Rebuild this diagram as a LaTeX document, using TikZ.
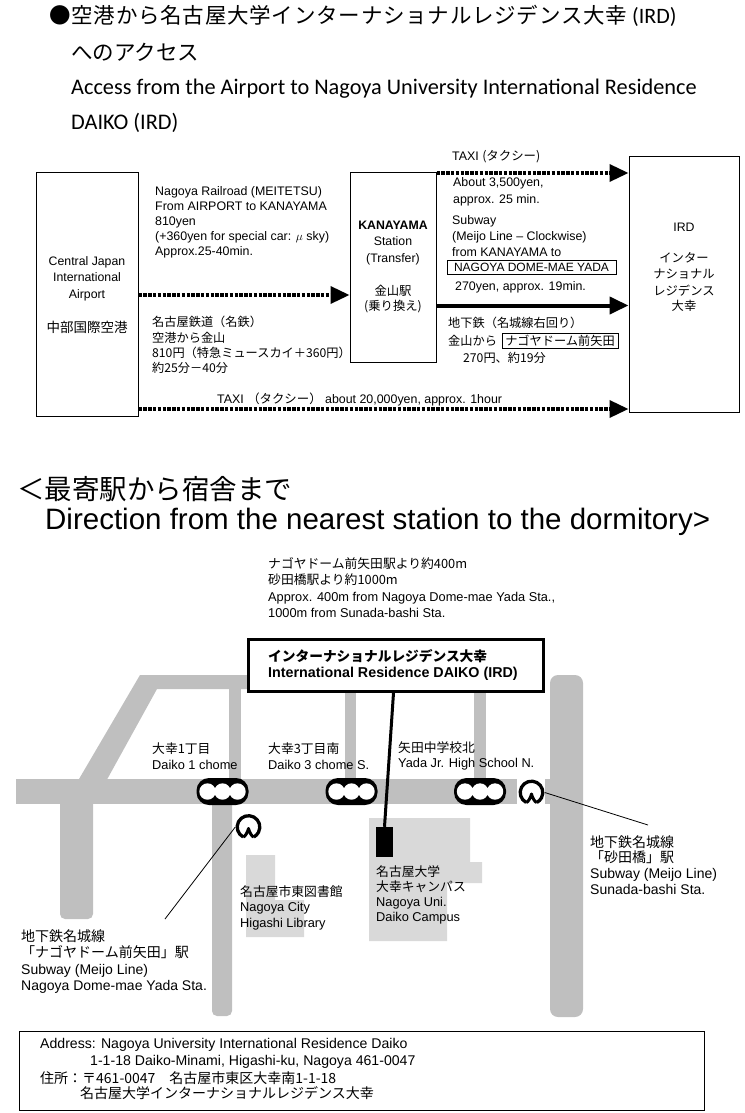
\documentclass[tikz,border=0pt]{standalone}
\usepackage{fontspec}
\setmainfont{Liberation Sans}
\newfontfamily\jp{Noto Sans CJK JP}
\newfontfamily\calfont{Carlito}
\usetikzlibrary{arrows.meta}
\definecolor{roadgray}{RGB}{191,191,191}
\definecolor{blockgray}{RGB}{217,217,217}
\newcommand\JP[1]{{\jp #1}}
\tikzset{
  boxframe/.style={draw, line width=1pt, inner sep=0pt},
  lt/.style={anchor=west, inner sep=0pt, align=left, font=\fontsize{12.4}{15}\selectfont},
  ljt/.style={anchor=west, inner sep=0pt, align=left, font=\jp\fontsize{12.2}{15.3}\selectfont},
  ct/.style={inner sep=0pt, align=center, font=\fontsize{12.3}{16.3}\selectfont},
  mt/.style={anchor=west, inner sep=0pt, align=left, font=\fontsize{12.8}{15.7}\selectfont},
  bigtip/.style={-{Triangle[length=19pt,width=17pt]}},
  dotarrow/.style={line width=3.5pt, dash pattern=on 3.5pt off 1.3pt, bigtip},
  fullarrow/.style={line width=4pt, bigtip},
  road/.style={fill=roadgray, draw=none},
  cblock/.style={fill=blockgray, draw=none},
  iconnode/.style={minimum size=26pt, inner sep=0pt},
  leader/.style={line width=0.8pt},
  subway/.pic={
    \draw[line width=3.3pt] (118:11.3) arc[start angle=118, end angle=422, radius=11.3];
    \draw[line width=3pt, line join=round] (118:11.3) .. controls (-3.5,10) and (-0.8,5) .. (0,1.5) .. controls (0.8,5) and (3.5,10) .. (62:11.3);
  },
  tlight/.pic={
    \fill[black, rounded corners=12.5pt] (-26,-13.5) rectangle (26,13.5);
    \fill[white] (-15,0) circle[radius=8.2] (0,0) circle[radius=8.2] (15,0) circle[radius=8.2];
  },
}
\begin{document}
\begin{tikzpicture}[x=1pt,y=-1pt]
\useasboundingbox (0,0) rectangle (744,1113);

% ---------- title ----------
\node[anchor=west, inner sep=0pt, font=\fontsize{21.5}{24}\selectfont] (ti1) at (49,16) {{\jp\addfontfeatures{LetterSpace=3.6}●空港から名古屋大学インターナショナルレジデンス大幸}{\calfont\fontsize{22}{24}\selectfont{} (IRD)}};
\node[anchor=west, inner sep=0pt, font=\jp\fontsize{21.5}{24}\selectfont] (ti2) at (71,52) {へのアクセス};
\node[anchor=west, inner sep=0pt, font=\calfont\fontsize{22.3}{24}\selectfont] (ti3) at (71,89) {Access from the Airport to Nagoya University International Residence};
\node[anchor=west, inner sep=0pt, font=\calfont\fontsize{22.3}{24}\selectfont] (ti4) at (71,123) {DAIKO (IRD)};

% ---------- access diagram ----------
\node[boxframe, minimum width=102pt, minimum height=244pt] (air) at (87,294) {};
\node[boxframe, minimum width=86pt, minimum height=190pt] (kan) at (393,267) {};
\node[boxframe, minimum width=110pt, minimum height=256pt] (ird) at (684,284) {};

\node[ct] (airtxt) at (87,295) {Central Japan\\International\\Airport\\[18pt]{\jp\fontsize{13.5}{16}\selectfont 中部国際空港}};
\node[ct] (kantxt) at (393,267) {\textbf{KANAYAMA}\\Station\\(Transfer)\\[17pt]\JP{金山駅}\\[-1pt]\JP{(乗り換え)}};
\node[ct] (irdtxt) at (684,267) {IRD\\[15pt]\JP{インター}\\\JP{ナショナル}\\\JP{レジデンス}\\[-1pt]\JP{大幸}};

\coordinate (ya) at (0,295);
\coordinate (yb) at (0,409);
\coordinate (yc) at (0,173);
\coordinate (yd) at (0,305.5);
\draw[dotarrow] (air.east |- ya) -- (kan.west |- ya);
\draw[dotarrow] (air.east |- yb) -- (ird.west |- yb);
\draw[dotarrow] (kan.east |- yc) -- (ird.west |- yc);
\draw[fullarrow] (kan.east |- yd) -- (ird.west |- yd);

\node[lt] (rail) at (155,222) {Nagoya Railroad (MEITETSU)\\From AIRPORT to KANAYAMA\\810yen\\(+360yen for special car: $\mu$ sky)\\Approx.25-40min.};
\node[ljt] (railjp) at (152,345) {名古屋鉄道（名鉄）\\空港から金山\\810円（特急ミュースカイ＋360円）\\約25分－40分};
\node[lt] (taxia) at (452,157) {TAXI \JP{(タクシー)}};
\node[lt, font=\fontsize{12.4}{17}\selectfont] (taxib) at (453,191.5) {About 3,500yen,\\approx. 25 min.};
\node[lt, font=\fontsize{12.4}{16}\selectfont] (sub) at (452,236) {Subway\\(Meijo Line – Clockwise)\\from KANAYAMA to};
\node[draw, line width=0.8pt, inner sep=1.5pt, minimum width=169pt, minimum height=14pt, font=\fontsize{12}{14}\selectfont] (dome) at (531.5,267) {NAGOYA DOME-MAE YADA};
\node[lt] (fare) at (455,287) {270yen, approx. 19min.};
\node[ljt] (subjp) at (448,323) {地下鉄（名城線右回り）};
\node[ljt] (kfrom) at (448,340.5) {金山から};
\node[draw, line width=0.8pt, inner sep=1.5pt, minimum width=116pt, minimum height=14pt, font=\jp\fontsize{12.2}{14}\selectfont] (domejp) at (560,341) {ナゴヤドーム前矢田};
\node[ljt] (farejp) at (463,358) {270円、約19分};
\node[lt] (taxic) at (217,399) {TAXI \JP{（タクシー）} about 20,000yen, approx. 1hour};

% ---------- heading ----------
\node[anchor=west, inner sep=0pt, font=\jp\fontsize{27.5}{30}\selectfont] (h1) at (17,489) {＜最寄駅から宿舎まで};
\node[anchor=west, inner sep=0pt, font=\fontsize{29.5}{32}\selectfont] (h2) at (45,522) {Direction from the nearest station to the dormitory>};

\node[mt, font=\fontsize{12.8}{16.3}\selectfont] (near) at (268,587.5) {\JP{ナゴヤドーム前矢田駅より約400m}\\\JP{砂田橋駅より約1000m}\\Approx. 400m from Nagoya Dome-mae Yada Sta.,\\1000m from Sunada-bashi Sta.};

% ---------- map ----------
\fill[road] (16,778.5) rectangle (560,803.5);
\fill[road, rounded corners=5pt] (60,790) -- (93,790) -- (93,919) -- (60,919) -- cycle;
\fill[road] (140,675) -- (400,675) -- (400,689) -- (157,689) -- (104,785) -- (75.5,785) -- cycle;
\fill[road] (229,680) rectangle (241,785);
\fill[road, rounded corners=5pt] (212,795) -- (232,795) -- (232,1016) -- (212,1016) -- cycle;
\fill[road] (345,685) rectangle (356,785);
\fill[road] (474,685) rectangle (486,785);
\fill[road, rounded corners=8pt] (550,675) rectangle (583,1017);

\fill[cblock] (246,855) -- (275,855) -- (275,900) -- (304,900) -- (304,937) -- (246,937) -- cycle;
\fill[cblock] (369,818) -- (470,818) -- (470,862) -- (482,862) -- (482,883) -- (447,883) -- (447,941) -- (369,941) -- cycle;
\fill[white] (517,778.5) rectangle (545,803.5);

\pic at (222.5,791.5) {tlight};
\pic at (351.5,791.5) {tlight};
\pic at (480,791.5) {tlight};

\node[iconnode] (s1) at (248.5,827) {};
\pic at (s1) {subway};
\node[iconnode] (s2) at (531.5,792.5) {};
\pic at (s2) {subway};
\coordinate (l1) at (165,919);
\coordinate (l2) at (648,825);
\draw[leader] (s1.west) -- (l1);
\draw[leader] (s2.east) -- (l2);

\node[fill=black, minimum width=17pt, minimum height=30pt, inner sep=0pt] (bld) at (384.5,842) {};
\node[draw, line width=3.3pt, fill=white, minimum width=294.5pt, minimum height=51.5pt, inner sep=0pt] (irdbox) at (396,665.5) {};
\draw[line width=3pt] ([xshift=-2.5pt]irdbox.south) -- (bld.north);
\node[anchor=west, inner sep=0pt, align=left, font=\bfseries\fontsize{14.3}{16.3}\selectfont] (irdname) at (268,665) {{\jp\fontsize{13.7}{16.3}\selectfont インターナショナルレジデンス大幸}\\International Residence DAIKO (IRD)};

\node[mt] (c1) at (152,756) {\JP{大幸1丁目}\\Daiko 1 chome};
\node[mt] (c2) at (268,756) {\JP{大幸3丁目南}\\Daiko 3 chome S.};
\node[mt] (c3) at (398,756) {\JP{矢田中学校北}\\Yada Jr. High School N.};
\node[mt, font=\fontsize{12.8}{15}\selectfont] (camp) at (376,894.5) {\JP{名古屋大学}\\\JP{大幸キャンパス}\\Nagoya Uni.\\Daiko Campus};
\node[mt, font=\fontsize{12.8}{15.5}\selectfont] (lib) at (240,907.5) {\JP{名古屋市東図書館}\\Nagoya City\\Higashi Library};
\node[mt, font=\fontsize{14}{16.3}\selectfont] (st1) at (21,961.5) {\JP{地下鉄名城線}\\\JP{「ナゴヤドーム前矢田」駅}\\Subway (Meijo Line)\\Nagoya Dome-mae Yada Sta.};
\node[mt, font=\fontsize{14}{15.7}\selectfont] (st2) at (590,865) {\JP{地下鉄名城線}\\\JP{「砂田橋」駅}\\Subway (Meijo Line)\\Sunada-bashi Sta.};

% ---------- address ----------
\node[boxframe, minimum width=685pt, minimum height=79pt] (addr) at (361.5,1071) {};
\node[anchor=west, inner sep=0pt, font=\fontsize{14.1}{16}\selectfont] (ad1) at (40,1045) {Address: Nagoya University International Residence Daiko};
\node[anchor=west, inner sep=0pt, font=\fontsize{14.1}{16}\selectfont] (ad2) at (90,1062) {1-1-18 Daiko-Minami, Higashi-ku, Nagoya 461-0047};
\node[anchor=west, inner sep=0pt, font=\jp\fontsize{14}{16}\selectfont] (ad3) at (40,1078) {住所：〒461-0047　名古屋市東区大幸南1-1-18};
\node[anchor=west, inner sep=0pt, font=\jp\fontsize{14}{16}\selectfont] (ad4) at (80,1093.5) {名古屋大学インターナショナルレジデンス大幸};
\end{tikzpicture}
\end{document}
